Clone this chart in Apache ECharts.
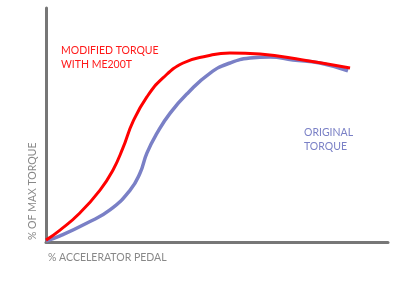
<!DOCTYPE html>
<html><head><meta charset="utf-8">
<script src="https://cdn.jsdelivr.net/npm/echarts@6/dist/echarts.min.js"></script>
<style>html,body{margin:0;padding:0;background:#fff}#c{width:400px;height:300px}</style>
</head><body><div id="c"></div>
<script>
var modifiedTorque = [[0,0.8],[4.1,5.1],[9.9,12.4],[15.8,22.2],[19.6,30.8],[22.5,40.2],[25.4,51.3],[29.5,62.0],[34.2,70.1],[40.1,76.5],[47.1,79.5],[53.8,80.8],[62.6,80.3],[75.1,77.8],[88.9,74.4]];
var originalTorque = [[0,0.4],[4.1,2.6],[12.0,8.1],[18.7,13.7],[24.6,22.2],[27.5,29.5],[29.5,38.0],[32.5,46.6],[36.3,55.1],[41.5,63.7],[48.0,72.2],[53.8,76.5],[59.6,78.6],[65.5,79.1],[72.2,77.8],[80.1,76.5],[88.3,73.1]];
var labels = {modified:['MODIFIED TORQUE','WITH ME200T'], original:['ORIGINAL','TORQUE'], x:'% ACCELERATOR PEDAL', y:'% OF MAX TORQUE'};
var font = 'Lato';
var chart = echarts.init(document.getElementById('c'));
chart.setOption({
  animation:false,
  grid:{left:46,right:12,top:8,bottom:58},
  xAxis:{type:'value',min:0,max:100,axisLine:{lineStyle:{color:'#777',width:3}},axisTick:{show:false},axisLabel:{show:false},splitLine:{show:false}},
  yAxis:{type:'value',min:0,max:100,axisLine:{show:true,lineStyle:{color:'#777',width:3}},axisTick:{show:false},axisLabel:{show:false},splitLine:{show:false}},
  series:[
    {type:'line',data:originalTorque,smooth:0.5,showSymbol:false,lineStyle:{color:'#7a80c6',width:3.5}},
    {type:'line',data:modifiedTorque,smooth:0.5,showSymbol:false,lineStyle:{color:'#ff0000',width:3}}
  ],
  graphic:[
    {type:'text',left:61,top:44,style:{text:labels.modified.join('\n'),fill:'#ff1a1a',font:'10.5px '+font,lineHeight:14}},
    {type:'text',left:304,top:126,style:{text:labels.original.join('\n'),fill:'#7a80c6',font:'10.5px '+font,lineHeight:14}},
    {type:'text',left:48,top:252,style:{text:labels.x,fill:'#888',font:'10.5px '+font}},
    {type:'text',x:27,y:240,rotation:Math.PI/2,style:{text:labels.y,fill:'#888',font:'10.5px '+font}}
  ]
});
</script></body></html>
